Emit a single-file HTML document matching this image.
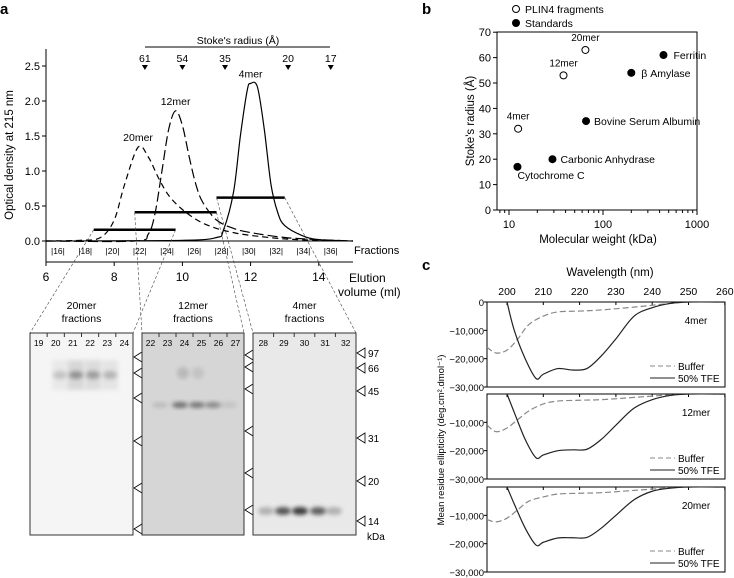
<!DOCTYPE html>
<html><head><meta charset="utf-8"><style>
body{margin:0;background:#fff}
svg{display:block;font-family:"Liberation Sans",sans-serif}
</style></head><body>
<svg id="fig" width="734" height="578" viewBox="0 0 734 578">
<g id="A"></g>
<g id="G"></g>
<g id="B"></g>
<g id="C"></g>
</svg>
<script>
// ---- Panel a data ----
const volTicks=[6,8,10,12,14];
const odTicks=[0,0.5,1.0,1.5,2.0,2.5];
const fractionLabels=[16,18,20,22,24,26,28,30,32,34,36];
const stokesLabels=[61,54,35,20,17];
const stokesVol=[8.9,10.0,11.25,13.1,14.35];
const vol20=[6,7,7.6,8.0,8.3,8.7,9.0,9.3,9.6,10,10.5,11,11.5,12,13,14,15];
const od20=[0,0.01,0.05,0.3,0.8,1.34,1.2,0.9,0.65,0.45,0.28,0.18,0.12,0.08,0.03,0.01,0];
const vol12=[6,8.6,9.0,9.2,9.4,9.6,9.8,10.0,10.2,10.4,10.6,11,11.5,12,13,14,15];
const od12=[0,0,0.1,0.4,1.0,1.6,1.86,1.65,1.2,0.8,0.55,0.3,0.18,0.12,0.05,0.02,0];
const vol4=[6,10,11,11.2,11.5,11.7,11.9,12.0,12.2,12.4,12.6,12.8,13,13.5,14,15];
const od4=[0,0.01,0.05,0.15,0.7,1.5,2.15,2.25,2.2,1.6,0.8,0.4,0.22,0.08,0.02,0];
const barNames=['20mer','12mer','4mer'];
const barStart=[7.4,8.6,11.0];
const barEnd=[9.8,11.0,13.0];
const barOD=[0.16,0.41,0.62];
// ---- Panel b data ----
const plinNames=['4mer','12mer','20mer'];
const plinMW=[12.5,38,65];
const plinR=[32,53,63];
const stdNames=['Cytochrome C','Carbonic Anhydrase','Bovine Serum Albumin','β Amylase','Ferritin'];
const stdMW=[12.3,29,66,200,440];
const stdR=[17,20,35,54,61];
const bYTicks=[0,10,20,30,40,50,60,70];
// ---- Panel c data ----
const wlTicks=[200,210,220,230,240,250,260];
const cdNames=['4mer','12mer','20mer'];
const tfeWl=[200,202,205,208,210,214,218,222,226,230,235,240,245,250,260];
const tfe4=[0,-10000,-20000,-27000,-25500,-23500,-24000,-23500,-19000,-13000,-5000,-2000,-500,0,0];
const tfe12=[0,-6500,-16000,-22500,-21500,-20000,-19700,-19500,-16000,-11000,-5000,-2000,-500,0,0];
const tfe20=[0,-6000,-14500,-20500,-19500,-18000,-17900,-17800,-14500,-10000,-4500,-1500,-400,0,0];
const bufWl=[194.5,197,200,203,206,210,214,220,226,235,245,250,260];
const buf4=[-16000,-18000,-17000,-13000,-8000,-5000,-3500,-3200,-2800,-1800,-500,0,0];
const buf12=[-11000,-13300,-12000,-9000,-6000,-3500,-2500,-2200,-2000,-1200,-300,0,0];
const buf20=[-11500,-12300,-11000,-8000,-5000,-3500,-2500,-2200,-2000,-1200,-300,0,0];
const cdYTicks=[0,-10000,-20000,-30000];

const NS='http://www.w3.org/2000/svg';
function mk(parent,tag,attrs,text){const e=document.createElementNS(NS,tag);for(const k in attrs)e.setAttribute(k,attrs[k]);if(text!==undefined)e.textContent=text;parent.appendChild(e);return e;}
function smooth(pts){let d='M'+pts[0][0]+','+pts[0][1];for(let i=0;i<pts.length-1;i++){const p0=pts[Math.max(0,i-1)],p1=pts[i],p2=pts[i+1],p3=pts[Math.min(pts.length-1,i+2)];const c1=[p1[0]+(p2[0]-p0[0])/6,p1[1]+(p2[1]-p0[1])/6],c2=[p2[0]-(p3[0]-p1[0])/6,p2[1]-(p3[1]-p1[1])/6];d+=` C${c1[0]},${c1[1]} ${c2[0]},${c2[1]} ${p2[0]},${p2[1]}`;}return d;}
const fmt=v=>v===0?'0':(v<0?'−':'')+Math.abs(v).toLocaleString('en-US');

// ===== Panel a =====
const A=document.getElementById('A');
const ax=v=>46+(v-6)*34.1, ay=v=>241-v*70;
let t=mk(A,'text',{x:0,y:14,'font-size':15,'font-weight':'bold'},'a');


mk(A,'line',{x1:46,y1:49,x2:46,y2:262,stroke:'#000'});
mk(A,'line',{x1:46,y1:262,x2:353,y2:262,stroke:'#000'});
mk(A,'line',{x1:46,y1:241,x2:353,y2:241,stroke:'#000'});
odTicks.forEach(v=>{mk(A,'line',{x1:42,y1:ay(v),x2:46,y2:ay(v),stroke:'#000'});
 const e=mk(A,'text',{x:40,y:ay(v)+4,'font-size':11,'text-anchor':'end'},v.toFixed(1));
 
 });
volTicks.forEach(v=>{mk(A,'line',{x1:ax(v),y1:262,x2:ax(v),y2:266,stroke:'#000'});
 const e=mk(A,'text',{x:ax(v),y:281,'font-size':12,'text-anchor':'middle'},v);
 
 });
t=mk(A,'text',{x:349,y:282,'font-size':12},'Elution');


mk(A,'text',{x:338,y:296,'font-size':12},'volume (ml)');
t=mk(A,'text',{transform:'translate(13,155) rotate(-90)','font-size':11.5,'text-anchor':'middle'},'Optical density at 215 nm');


fractionLabels.forEach((f,i)=>{const x=ax(6.35+i*0.8);
 const e=mk(A,'text',{x:x,y:254,'font-size':8.5,'text-anchor':'middle'},'|'+f+'|');
 
 });
t=mk(A,'text',{x:354,y:254,'font-size':11},'Fractions');


mk(A,'line',{x1:145,y1:47,x2:330,y2:47,stroke:'#000'});
t=mk(A,'text',{x:238,y:44,'font-size':10.5,'text-anchor':'middle'},"Stoke's radius (Å)");


stokesLabels.forEach((s,i)=>{const x=ax(stokesVol[i]);
 const e=mk(A,'text',{x:x,y:62,'font-size':10.5,'text-anchor':'middle'},s);
 
 
 const p=mk(A,'path',{d:`M${x-3},65 L${x+3},65 L${x},70 Z`,fill:'#000'});
 
 });
[[vol20,od20,'6,4','20mer'],[vol12,od12,'10,4','12mer'],[vol4,od4,'none','4mer']].forEach(([vx,vy,da,n])=>{
 const p=mk(A,'path',{d:smooth(vx.map((v,i)=>[ax(v),ay(vy[i])])),fill:'none',stroke:'#000','stroke-width':1.2,'stroke-dasharray':da});
 
 
 const k=vy.indexOf(Math.max(...vy));
 const e=mk(A,'text',{x:ax(vx[k]),y:ay(vy[k])-6,'font-size':10.5,'text-anchor':'middle'},n);
 
 });
const gelL=[30,142,253], gelR=[133,244,356];
barNames.forEach((n,i)=>{
 const b=mk(A,'line',{x1:ax(barStart[i]),y1:ay(barOD[i]),x2:ax(barEnd[i]),y2:ay(barOD[i]),stroke:'#000','stroke-width':2.5});
 
 
 mk(A,'line',{x1:ax(barStart[i]),y1:ay(barOD[i]),x2:gelL[i],y2:333,stroke:'#444','stroke-width':0.6,'stroke-dasharray':'3,2'});
 mk(A,'line',{x1:ax(barEnd[i]),y1:ay(barOD[i]),x2:gelR[i],y2:333,stroke:'#444','stroke-width':0.6,'stroke-dasharray':'3,2'});});

// ===== Gels =====
const G=document.getElementById('G');
mk(G,'defs',{}).innerHTML='<filter id="bl" x="-50%" y="-50%" width="200%" height="200%"><feGaussianBlur stdDeviation="2"/></filter>';
const gelBg=['#f5f5f5','#d6d6d6','#e9e9e9'];
const gelLanes=[[19,20,21,22,23,24],[22,23,24,25,26,27],[28,29,30,31,32]];
const gelTitles=['20mer','12mer','4mer'];
const markerY=[[357,373,398,441,488,529],[355,367,389,431,473,510],[]];
gelL.forEach((l,g)=>{
 const w=gelR[g]-l;
 const e=mk(G,'text',{x:l+w/2,y:309,'font-size':10.5,'text-anchor':'middle'},gelTitles[g]);
 
 
 mk(G,'text',{x:l+w/2,y:322,'font-size':10.5,'text-anchor':'middle'},'fractions');
 const r=mk(G,'rect',{x:l,y:333,width:w,height:202,fill:gelBg[g],stroke:'#333','stroke-width':1});
 
 
 const lw=w/gelLanes[g].length;
 gelLanes[g].forEach((n,i)=>{const e2=mk(G,'text',{x:l+lw*(i+0.5),y:346,'font-size':8.5,'text-anchor':'middle'},n);
  
  
  mk(G,'line',{x1:l+lw*(i+1),y1:333,x2:l+lw*(i+1),y2:337,stroke:'#333'});});
 markerY[g].forEach(y=>{mk(G,'path',{d:`M${gelR[g]+1},${y} L${gelR[g]+9},${y-5} L${gelR[g]+9},${y+5} Z`,fill:'#fff',stroke:'#000','stroke-width':0.8});});
});
// gel bands
const band=(x,y,w,h,c,o)=>mk(G,'ellipse',{cx:x,cy:y,rx:w,ry:h,fill:c,opacity:o,filter:'url(#bl)'});
[[60,0.3],[76,0.7],[93,0.6],[110,0.4]].forEach(([x,o])=>{band(x,375,7,4,'#666',o);mk(G,'rect',{x:x-8,y:360,width:16,height:30,fill:'#999',opacity:o*0.45,filter:'url(#bl)'});});
[[160,0.2],[180,0.8],[197,0.75],[213,0.6],[229,0.15]].forEach(([x,o])=>band(x,405,8,3,'#555',o));
[[183,0.3],[198,0.2]].forEach(([x,o])=>band(x,373,6,6,'#777',o));
[[266,0.3],[283,0.8],[300,0.95],[318,0.75],[334,0.3]].forEach(([x,o])=>band(x,511,8,4,'#333',o));
const kdaLabels=[97,66,45,31,20,14], kdaY=[353,368,391,438,481,521];
kdaLabels.forEach((k,i)=>{mk(G,'path',{d:`M357,${kdaY[i]} L365,${kdaY[i]-5} L365,${kdaY[i]+5} Z`,fill:'#fff',stroke:'#000','stroke-width':0.8});
 const e=mk(G,'text',{x:368,y:kdaY[i]+4,'font-size':10},k);
 
 });
mk(G,'text',{x:367,y:540,'font-size':10},'kDa');

// ===== Panel b =====
const B=document.getElementById('B');
const bx=v=>509+Math.log10(v/10)*94, by=v=>210-v*2.54;
t=mk(B,'text',{x:422,y:14,'font-size':15,'font-weight':'bold'},'b');


mk(B,'rect',{x:497,y:32,width:200,height:178,fill:'none',stroke:'#000'});
bYTicks.forEach(v=>{mk(B,'line',{x1:493,y1:by(v),x2:497,y2:by(v),stroke:'#000'});
 const e=mk(B,'text',{x:491,y:by(v)+4,'font-size':11,'text-anchor':'end'},v);
 
 });
for(let d=10;d<=1000;d*=10)for(let m=1;m<10;m++){const v=d*m;if(v>1000)break;const x=bx(v);
 mk(B,'line',{x1:x,y1:210,x2:x,y2:m===1?215:213,stroke:'#000'});
 if(m===1){const e=mk(B,'text',{x:x,y:228,'font-size':11,'text-anchor':'middle'},v);
  
  }}
[8,9].forEach(v=>mk(B,'line',{x1:bx(v),y1:210,x2:bx(v),y2:213,stroke:'#000'}));
t=mk(B,'text',{x:598,y:243,'font-size':11.5,'text-anchor':'middle'},'Molecular weight (kDa)');


t=mk(B,'text',{transform:'translate(474,121) rotate(-90)','font-size':11.5,'text-anchor':'middle'},"Stoke's radius (Å)");


mk(B,'circle',{cx:516,cy:9,r:3.5,fill:'#fff',stroke:'#000'});
t=mk(B,'text',{x:525,y:13,'font-size':10.5},'PLIN4 fragments');


mk(B,'circle',{cx:516,cy:23,r:4,fill:'#000'});
t=mk(B,'text',{x:525,y:27,'font-size':10.5},'Standards');


plinNames.forEach((n,i)=>{const c=mk(B,'circle',{cx:bx(plinMW[i]),cy:by(plinR[i]),r:3.5,fill:'#fff',stroke:'#000'});
 
 
 mk(B,'text',{x:bx(plinMW[i]),y:by(plinR[i])-9,'font-size':10,'text-anchor':'middle'},n);});
const stdOff=[[0,12],[8,4],[8,4],[10,4],[10,4]];
stdNames.forEach((n,i)=>{const c=mk(B,'circle',{cx:bx(stdMW[i]),cy:by(stdR[i]),r:4,fill:'#000'});
 
 
 mk(B,'text',{x:bx(stdMW[i])+stdOff[i][0],y:by(stdR[i])+stdOff[i][1],'font-size':10.5},n);});

// ===== Panel c =====
const C=document.getElementById('C');
const cx=v=>507+(v-200)*3.63;
const tops=[302,394,487], H=85, L=487, R=725;
t=mk(C,'text',{x:422,y:270,'font-size':15,'font-weight':'bold'},'c');


t=mk(C,'text',{x:610,y:276,'font-size':11.5,'text-anchor':'middle'},'Wavelength (nm)');


wlTicks.forEach(v=>{const e=mk(C,'text',{x:cx(v),y:295,'font-size':10.5,'text-anchor':'middle'},v);
 
 });
t=mk(C,'text',{transform:'translate(444,440) rotate(-90)','font-size':9.5,'text-anchor':'middle'},'Mean residue ellipticity (deg.cm².dmol⁻¹)');


const tfeS=[tfe4,tfe12,tfe20], bufS=[buf4,buf12,buf20];
cdNames.forEach((n,k)=>{const top=tops[k], cy=v=>top-v/30000*H;
 const r=mk(C,'rect',{x:L,y:top,width:R-L,height:H,fill:'none',stroke:'#000'});
 
 
 cdYTicks.forEach(v=>{if(k>0&&v===0)return;mk(C,'line',{x1:L-3,y1:cy(v),x2:L,y2:cy(v),stroke:'#000'});
  const e=mk(C,'text',{x:L-3,y:cy(v)+4,'font-size':9.5,'text-anchor':'end'},fmt(v));
  
  });
 wlTicks.forEach(v=>mk(C,'line',{x1:cx(v),y1:top,x2:cx(v),y2:top+3,stroke:'#000'}));
 const cl=mk(C,'clipPath',{id:'cp'+k});mk(cl,'rect',{x:L,y:top,width:R-L,height:H});
 const g=mk(C,'g',{'clip-path':`url(#cp${k})`});
 const pb=mk(g,'path',{d:smooth(bufWl.map((w,i)=>[cx(w),cy(bufS[k][i])])),fill:'none',stroke:'#888','stroke-width':1.2,'stroke-dasharray':'6,3'});
 
 
 const pt=mk(g,'path',{d:smooth(tfeWl.map((w,i)=>[cx(w),cy(tfeS[k][i])])),fill:'none',stroke:'#222','stroke-width':1.2});
 
 
 mk(C,'text',{x:696,y:top+22,'font-size':10,'text-anchor':'middle'},n);
 mk(C,'line',{x1:650,y1:top+64,x2:675,y2:top+64,stroke:'#888','stroke-dasharray':'5,3'});
 const lb=mk(C,'text',{x:678,y:top+68,'font-size':10},'Buffer');
 
 
 mk(C,'line',{x1:650,y1:top+76,x2:675,y2:top+76,stroke:'#222'});
 const lt=mk(C,'text',{x:678,y:top+80,'font-size':10},'50% TFE');
 
 
});
</script>
</body></html>
